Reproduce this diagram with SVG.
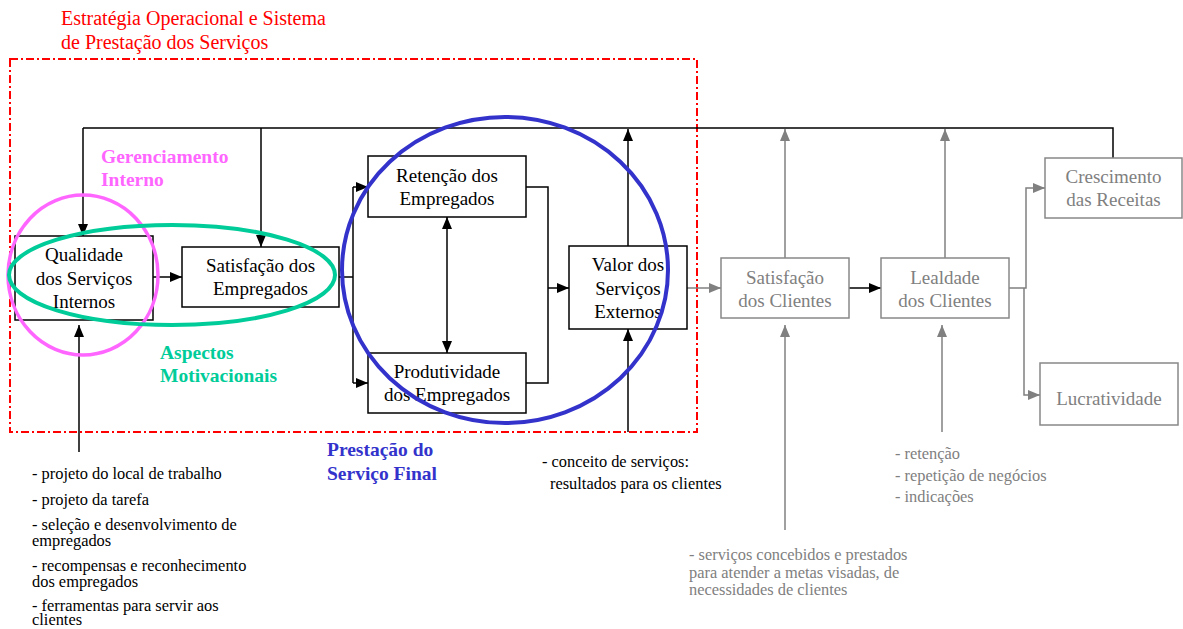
<svg xmlns="http://www.w3.org/2000/svg" width="1183" height="629" viewBox="0 0 1183 629">
  <defs>
    <marker id="ah" markerUnits="userSpaceOnUse" markerWidth="12" markerHeight="10" refX="12" refY="5" orient="auto-start-reverse">
      <path d="M0,0 L12,5 L0,10 z" fill="#000"/>
    </marker>
    <marker id="ahg" markerUnits="userSpaceOnUse" markerWidth="12" markerHeight="10" refX="12" refY="5" orient="auto-start-reverse">
      <path d="M0,0 L12,5 L0,10 z" fill="#808080"/>
    </marker>
    <style>
      text { font-family: "Liberation Serif", "Times New Roman", serif; }
      .box { fill: #fff; stroke: #000; stroke-width: 1.5; }
      .gbox { fill: #fff; stroke: #888; stroke-width: 1.5; }
      .nt { font-size: 19px; fill: #000; text-anchor: middle; }
      .gt { font-size: 19px; fill: #808080; text-anchor: middle; }
      .ln { fill: none; stroke: #000; stroke-width: 1.5; }
      .gl { fill: none; stroke: #808080; stroke-width: 1.5; }
      .lst { font-size: 16.4px; fill: #000; }
      .glst { font-size: 16.4px; fill: #808080; }
      .lbl { font-size: 19.5px; font-weight: bold; }
    </style>
  </defs>
  <rect width="1183" height="629" fill="#fff"/>

  <!-- operational strategy boundary -->
  <g id="strategy">
    <rect x="10" y="59" width="687" height="373" fill="none" stroke="#ff0000" stroke-width="2" stroke-dasharray="8,3,2,3"/>
    <text x="61" y="25" font-size="20" fill="#ff0000">Estratégia Operacional e Sistema</text>
    <text x="61" y="49" font-size="20" fill="#ff0000">de Prestação dos Serviços</text>
  </g>

  <!-- connectors -->
  <g id="connectors">
    <path class="ln" d="M83,128 H1113 V158" stroke-width="2"/>
    <path class="ln" d="M83,128 V236" marker-end="url(#ah)"/>
    <path class="ln" d="M261,128 V247" marker-end="url(#ah)"/>
    <path class="ln" d="M628,246 V129" marker-end="url(#ah)"/>
    <path class="ln" d="M628,432 V329" marker-end="url(#ah)"/>
    <path class="ln" d="M153,277 H182" marker-end="url(#ah)"/>
    <path class="ln" d="M339,277 H353"/>
    <path class="ln" d="M353,187 V383"/>
    <path class="ln" d="M353,187 H368" marker-end="url(#ah)"/>
    <path class="ln" d="M353,383 H368" marker-end="url(#ah)"/>
    <path class="ln" d="M447,217 V353" marker-start="url(#ah)" marker-end="url(#ah)"/>
    <path class="ln" d="M526,187 H548 V383 H526"/>
    <path class="ln" d="M548,288 H569" marker-end="url(#ah)"/>
    <path class="gl" d="M687,288 H721" marker-end="url(#ahg)"/>
    <path class="ln" d="M849,288 H881" marker-end="url(#ah)"/>
    <path class="gl" d="M785,258 V129" marker-end="url(#ahg)"/>
    <path class="gl" d="M945,258 V129" marker-end="url(#ahg)"/>
    <path class="gl" d="M785,530 V325" marker-end="url(#ahg)"/>
    <path class="gl" d="M942,432 V325" marker-end="url(#ahg)"/>
    <path class="gl" d="M1009,288 H1026 V188 H1045" marker-end="url(#ahg)"/>
    <path class="gl" d="M1024,288 V395 H1040" marker-end="url(#ahg)"/>
    <path class="ln" d="M79,452 V325" stroke-width="2" marker-end="url(#ah)"/>
  </g>

  <g id="qualidade">
    <rect class="box" x="15" y="236" width="138" height="84"/>
    <text class="nt" x="84" y="261">Qualidade</text>
    <text class="nt" x="84" y="285">dos Serviços</text>
    <text class="nt" x="84" y="308">Internos</text>
  </g>
  <g id="satisfacao-empregados">
    <rect class="box" x="182" y="247" width="157" height="60"/>
    <text class="nt" x="260.5" y="272">Satisfação dos</text>
    <text class="nt" x="260.5" y="295">Empregados</text>
  </g>
  <g id="retencao">
    <rect class="box" x="368" y="156" width="158" height="61"/>
    <text class="nt" x="447" y="182">Retenção dos</text>
    <text class="nt" x="447" y="205">Empregados</text>
  </g>
  <g id="produtividade">
    <rect class="box" x="368" y="353" width="158" height="60"/>
    <text class="nt" x="447" y="378">Produtividade</text>
    <text class="nt" x="447" y="401">dos Empregados</text>
  </g>
  <g id="valor">
    <rect class="box" x="569" y="246" width="118" height="83"/>
    <text class="nt" x="628" y="271">Valor dos</text>
    <text class="nt" x="628" y="295">Serviços</text>
    <text class="nt" x="628" y="318">Externos</text>
  </g>
  <g id="satisfacao-clientes">
    <rect class="gbox" x="721" y="258" width="128" height="60"/>
    <text class="gt" x="785" y="284">Satisfação</text>
    <text class="gt" x="785" y="307">dos Clientes</text>
  </g>
  <g id="lealdade">
    <rect class="gbox" x="881" y="258" width="128" height="60"/>
    <text class="gt" x="945" y="284">Lealdade</text>
    <text class="gt" x="945" y="307">dos Clientes</text>
  </g>
  <g id="crescimento">
    <rect class="gbox" x="1045" y="158" width="137" height="60"/>
    <text class="gt" x="1113.5" y="183">Crescimento</text>
    <text class="gt" x="1113.5" y="206">das Receitas</text>
  </g>
  <g id="lucratividade">
    <rect class="gbox" x="1040" y="363" width="138" height="62"/>
    <text class="gt" x="1109" y="405">Lucratividade</text>
  </g>

  <!-- highlight rings -->
  <g id="gerenciamento-interno">
    <ellipse cx="83" cy="275" rx="75" ry="80" fill="none" stroke="#ff66ff" stroke-width="3.5"/>
    <text class="lbl" x="101" y="163" fill="#ff66ff">Gerenciamento</text>
    <text class="lbl" x="101" y="186" fill="#ff66ff">Interno</text>
  </g>
  <g id="aspectos-motivacionais">
    <ellipse cx="172" cy="275" rx="163" ry="50" fill="none" stroke="#00cc99" stroke-width="4"/>
    <text class="lbl" x="160" y="359" fill="#00cc99">Aspectos</text>
    <text class="lbl" x="160" y="382" fill="#00cc99">Motivacionais</text>
  </g>
  <g id="prestacao-servico-final">
    <ellipse cx="505" cy="270" rx="163" ry="153" fill="none" stroke="#3333cc" stroke-width="4"/>
    <text class="lbl" x="327" y="456" fill="#3333cc">Prestação do</text>
    <text class="lbl" x="327" y="480" fill="#3333cc">Serviço Final</text>
  </g>

  <!-- notes -->
  <g id="notas-internas">
    <text class="lst" x="32" y="479">- projeto do local de trabalho</text>
    <text class="lst" x="32" y="505">- projeto da tarefa</text>
    <text class="lst"><tspan x="32" y="530">- seleção e desenvolvimento de</tspan><tspan x="32" y="546">empregados</tspan></text>
    <text class="lst"><tspan x="32" y="571">- recompensas e reconhecimento</tspan><tspan x="32" y="587">dos empregados</tspan></text>
    <text class="lst"><tspan x="32" y="611">- ferramentas para servir aos</tspan><tspan x="32" y="625">clientes</tspan></text>
  </g>
  <g id="notas-conceito">
    <text class="lst"><tspan x="542" y="467">- conceito de serviços:</tspan><tspan x="550" y="489">resultados para os clientes</tspan></text>
  </g>
  <g id="notas-lealdade">
    <text class="glst" x="895" y="459">- retenção</text>
    <text class="glst" x="895" y="481">- repetição de negócios</text>
    <text class="glst" x="895" y="502">- indicações</text>
  </g>
  <g id="notas-clientes">
    <text class="glst"><tspan x="689" y="560">- serviços concebidos e prestados</tspan><tspan x="689" y="578">para atender a metas visadas, de</tspan><tspan x="689" y="595">necessidades de clientes</tspan></text>
  </g>
</svg>
